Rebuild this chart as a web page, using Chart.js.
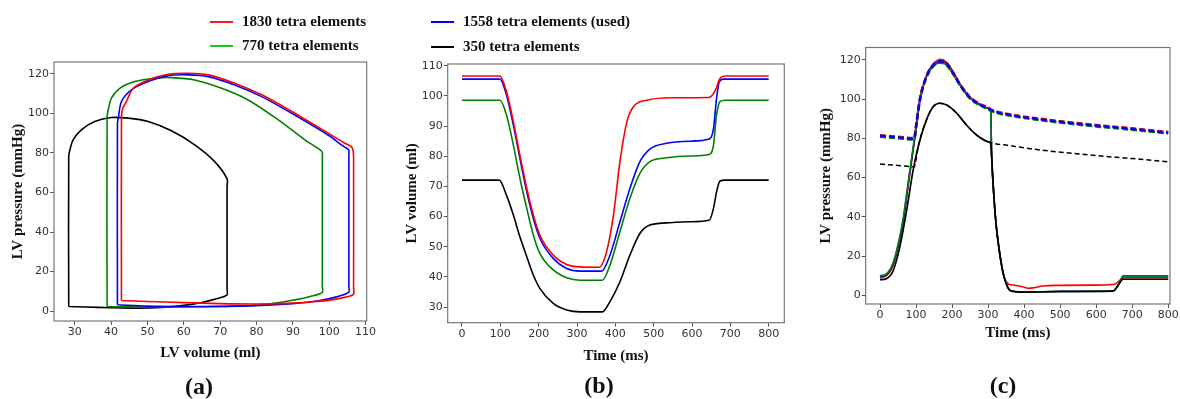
<!DOCTYPE html>
<html>
<head>
<meta charset="utf-8">
<script src="https://cdn.jsdelivr.net/npm/chart.js@4.4.1/dist/chart.umd.min.js"></script>
<style>
  html, body { margin: 0; padding: 0; background: #fff; }
  #wrap { position: relative; width: 1180px; height: 399px; overflow: hidden; }
  canvas { position: absolute; left: 0; top: 0; }
  .lg { position: absolute; font: bold 15px 'Liberation Serif', serif; color: #111; white-space: nowrap; line-height: 18px; }
  .lg i { display: inline-block; width: 23px; height: 2px; vertical-align: middle; margin-right: 9px; position: relative; top: -1px; }
  .tag { position: absolute; font: bold 24px 'Liberation Serif', serif; color: #111; transform: translate(-50%, -50%); white-space: nowrap; }
</style>
</head>
<body>
<div id="wrap">
  <canvas id="pv" width="1180" height="399"></canvas>
  <canvas id="vol" width="1180" height="399"></canvas>
  <canvas id="pres" width="1180" height="399"></canvas>

  <div class="lg" style="left:210px;top:12px"><i style="background:#ff1a1a"></i>1830 tetra elements</div>
  <div class="lg" style="left:210px;top:36px"><i style="background:#1ec81e"></i>770 tetra elements</div>
  <div class="lg" style="left:431px;top:12px"><i style="background:#0000ff"></i>1558 tetra elements (used)</div>
  <div class="lg" style="left:431px;top:37px"><i style="background:#000"></i>350 tetra elements</div>

  <div class="tag" style="left:199px;top:386px">(a)</div>
  <div class="tag" style="left:599px;top:385px">(b)</div>
  <div class="tag" style="left:1003px;top:385px">(c)</div>
</div>
<script>
// ---- (a) PV loops: volume (ml) / pressure (mmHg)
const pvRedV   = [42.85, 42.85, 43.2, 44.2, 46.1, 50.2, 55.7, 61.2, 66.7, 74, 81.4, 90.5, 99.7, 104.3, 106.1, 106.6, 106.7, 106.7, 106.7, 105.5, 101, 95, 88, 80, 70, 60, 50, 42.85];
const pvRedP   = [5.4, 98, 102.5, 106, 112.7, 116.9, 119.8, 120.3, 119.5, 115.3, 109.4, 100.1, 90, 84.9, 83.2, 80.7, 77, 12, 8.6, 7.5, 5.8, 4.6, 3.9, 3.6, 3.8, 4.3, 4.9, 5.4];
const pvBlueV  = [41.75, 41.75, 42.05, 42.85, 45.6, 50.2, 55.7, 61.2, 66.7, 74, 81.4, 90.5, 99.7, 103.4, 105.2, 105.4, 105.4, 105.4, 105.4, 102, 97, 90, 80, 70, 60, 50, 41.75];
const pvBlueP  = [3.2, 95, 98.4, 106, 111.9, 116.1, 119.1, 119.5, 118.6, 114.4, 108.5, 99.2, 89.1, 84, 81.8, 81.3, 78, 12.5, 9.6, 7.2, 5.2, 3.8, 2.8, 2.4, 2.3, 2.5, 3.2];
const pvGreenV = [38.9, 38.9, 39.3, 40.1, 42.4, 46.5, 52, 56.6, 63, 70.4, 77.7, 86, 93.3, 97.6, 98.1, 98.1, 98.1, 98.1, 95, 90.5, 81.4, 70, 60, 50, 38.9];
const pvGreenP = [2.3, 98, 102.5, 107.7, 112.7, 116.1, 117.8, 118.1, 116.9, 112.7, 106.8, 96.7, 86.6, 81.4, 80, 77, 12.5, 9.5, 7.5, 5.7, 3.2, 2.3, 2.1, 2.1, 2.3];
const pvBlackV = [28.35, 28.35, 28.8, 29.55, 31.8, 35.5, 40.1, 44.7, 50.2, 56.6, 63, 68.5, 71.9, 71.9, 71.9, 71.9, 69, 65, 60, 54, 47, 40, 33, 28.35];
const pvBlackP = [2.3, 78, 82.5, 86.6, 91.7, 95.9, 97.9, 97.6, 95.9, 91.2, 84.1, 75.6, 66.9, 63, 11, 8.2, 6.2, 4.4, 2.9, 1.9, 1.5, 1.7, 2.1, 2.3];
const pvXTicks = [30, 40, 50, 60, 70, 80, 90, 100, 110];
const pvYTicks = [0, 20, 40, 60, 80, 100, 120];

// ---- (b) LV volume (ml) over time (ms)
const volRedT   = [0, 99, 116, 134, 151, 169, 186, 203, 238, 273, 308, 358, 377, 395, 412, 430, 447, 482, 551, 645, 661, 673, 686, 800];
const volRedV   = [106.6, 106.6, 101.4, 91.4, 80.4, 69.3, 60.5, 53.9, 47.2, 44.1, 43.3, 43.2, 48.3, 60.5, 78.2, 91.4, 96.4, 98.6, 99.4, 99.5, 101.9, 105.8, 106.6, 106.6];
const volBlueT  = [0, 99, 116, 134, 151, 169, 186, 203, 238, 273, 308, 364, 386, 412, 438, 464, 490, 534, 595, 645, 656, 664, 671, 682, 800];
const volBlueV  = [105.6, 105.6, 100.3, 90.3, 79.3, 68.2, 59.4, 52.8, 46.1, 42.8, 41.9, 41.9, 47.2, 58.3, 69.3, 78.2, 82.4, 84.3, 85, 85.7, 89.2, 99.2, 104.7, 105.6, 105.6];
const volGreenT = [0, 99, 116, 134, 151, 169, 186, 203, 238, 273, 308, 366, 386, 412, 438, 464, 490, 534, 595, 645, 656, 664, 673, 686, 800];
const volGreenV = [98.6, 98.6, 93.7, 83.7, 72.7, 62.7, 53.9, 47.8, 42.3, 39.7, 38.9, 38.9, 43.9, 55, 66, 74.3, 78.2, 79.5, 80.1, 80.6, 83.7, 93.7, 98.1, 98.6, 98.6];
const volBlackT = [0, 97, 116, 134, 151, 169, 186, 203, 238, 273, 308, 366, 386, 412, 438, 464, 490, 534, 595, 645, 656, 664, 673, 686, 800];
const volBlackV = [72.1, 72.1, 67.1, 60.5, 53.3, 46.7, 40.6, 36.2, 31.2, 29, 28.4, 28.4, 31.8, 38.4, 47.2, 54.4, 57.2, 57.9, 58.3, 58.8, 62.7, 68.2, 71.8, 72.1, 72.1];
const volXTicks = [0, 100, 200, 300, 400, 500, 600, 700, 800];
const volYTicks = [30, 40, 50, 60, 70, 80, 90, 100, 110];

// ---- (c) LV pressure (solid) and aortic pressure (dashed), mmHg over time (ms)
const lvT       = [0, 18, 37, 55, 65, 80, 97, 111, 129, 148, 169, 185, 203, 222, 250, 277, 300, 307, 310, 315, 322, 331, 342, 356, 365, 407, 499, 647, 661, 675, 800];
const lvGreenP  = [10, 11, 17, 30, 40, 60, 82, 100, 111.5, 116.8, 118.6, 117.3, 112.8, 107, 100.5, 97, 95.3, 94.5, 70.7, 53.7, 36.7, 23.1, 11.2, 3.6, 2.2, 1.7, 2, 2.2, 5.1, 9.9, 9.9];
const lvBlueP   = [9.6, 10.6, 16.4, 29.2, 39, 59, 81, 99.5, 111.5, 117.3, 119.3, 118, 113.3, 107.3, 100.7, 97.2, 95.4, 94.5, 70.7, 53.7, 36.7, 23.1, 11.2, 3.6, 2.2, 1.7, 2, 2.2, 5.1, 9.9, 9.9];
const lvRedT    = [0, 18, 37, 55, 65, 80, 97, 111, 129, 148, 169, 185, 203, 222, 250, 277, 300, 307, 310, 315, 322, 331, 342, 356, 365, 398, 410, 425, 453, 499, 592, 647, 661, 675, 800];
const lvRedP    = [9, 10, 15.5, 28, 38, 58, 80.5, 99.5, 112, 118, 120.3, 118.7, 114, 107.8, 101, 97.4, 95.5, 94.5, 70.7, 53.7, 36.7, 23.1, 11.2, 5.8, 5.4, 4.3, 3.6, 3.8, 4.8, 5.1, 5.2, 5.5, 6.8, 9, 9];
const lvBlackT  = [0, 18, 37, 55, 74, 92, 106, 129, 148, 166, 185, 213, 240, 268, 300, 307, 310, 315, 322, 331, 342, 356, 365, 407, 499, 647, 661, 675, 800];
const lvBlackP  = [8, 8.5, 12.8, 24.7, 43.4, 63.8, 75.7, 89.4, 96.2, 97.9, 97, 92.8, 86.8, 81.7, 78.3, 77.5, 70.7, 53.7, 36.7, 23.1, 11.2, 3.6, 2.2, 1.7, 2, 2.2, 5.1, 8.2, 8.2];
const aoT       = [0, 50, 95, 100, 111, 129, 148, 169, 185, 203, 222, 250, 277, 300, 307, 360, 444, 583, 700, 800];
const aoBlueP   = [81.3, 80.5, 79.8, 86, 100, 111.5, 117.3, 119.3, 118, 113.3, 107.3, 100.7, 97.2, 95.4, 94.5, 92, 89.7, 86.8, 84.8, 82.9];
const aoRedP    = [81.6, 80.8, 80.1, 86.3, 100.3, 111.8, 117.6, 119.6, 118.3, 113.6, 107.6, 101, 97.5, 95.7, 94.8, 92.3, 90, 87.1, 85.1, 83.2];
const aoGreenP  = [80.9, 80.1, 79.4, 85.6, 99.6, 111.1, 116.8, 118.6, 117.3, 112.8, 107, 100.3, 96.8, 95, 94.1, 91.6, 89.3, 86.4, 84.4, 82.5];
const aoBlackT  = [0, 50, 95, 100, 106, 129, 148, 166, 185, 213, 240, 268, 300, 360, 444, 583, 700, 800];
const aoBlackP  = [66.9, 66.2, 65.5, 69, 75.7, 89.4, 96.2, 97.9, 97, 92.8, 86.8, 81.7, 78.3, 76.3, 74.1, 71.5, 69.7, 68.1];
const presXTicks = [0, 100, 200, 300, 400, 500, 600, 700, 800];
const presYTicks = [0, 20, 40, 60, 80, 100, 120];

const RED = '#ff0000', BLUE = '#0000ff', GREEN = '#008000', BLACK = '#000000';
const TICK_FONT = { family: "'DejaVu Sans', sans-serif", size: 11 };
const TITLE_FONT = { family: "'Liberation Serif', serif", size: 15, weight: 'bold', lineHeight: 1.2 };

const pts = (xs, ys) => xs.map((x, i) => ({ x, y: ys[i] }));

const framePlugin = {
  id: 'frame',
  afterDraw(chart) {
    const { ctx, chartArea: a } = chart;
    ctx.save();
    ctx.strokeStyle = '#777';
    ctx.lineWidth = 1.2;
    ctx.strokeRect(a.left, a.top, a.right - a.left, a.bottom - a.top);
    ctx.restore();
  },
};

function scale(min, max, ticks, title, size, horizontal, titlePad) {
  return {
    type: 'linear',
    min, max,
    afterBuildTicks: s => { s.ticks = ticks.map(v => ({ value: v })); },
    afterFit: s => { if (horizontal) s.height = size; else s.width = size; },
    grid: { drawOnChartArea: false, drawTicks: true, tickLength: 4, color: '#555' },
    border: { display: false },
    ticks: { font: TICK_FONT, color: '#333', padding: 1, autoSkip: false, maxRotation: 0 },
    title: { display: true, text: title, font: TITLE_FONT, color: '#111', padding: { top: titlePad, bottom: 0 } },
  };
}

// smooth: 'mono' for time series, a number for bezier tension on the loops
function line(data, color, width, dash, smooth) {
  return {
    data, borderColor: color, borderWidth: width, borderDash: dash || [],
    pointRadius: 0, fill: false, showLine: true,
    tension: typeof smooth === 'number' ? smooth : 0,
    cubicInterpolationMode: smooth === 'mono' ? 'monotone' : 'default',
  };
}

function makeChart(id, type, datasets, padding, x, y) {
  return new Chart(document.getElementById(id), {
    type,
    data: { datasets },
    options: {
      responsive: false,
      animation: false,
      layout: { padding },
      plugins: { legend: { display: false }, tooltip: { enabled: false } },
      scales: { x, y },
    },
    plugins: [framePlugin],
  });
}

// datasets listed top-most first (Chart.js paints index 0 last)

// (a)
makeChart('pv', 'scatter', [
  line(pts(pvRedV, pvRedP), RED, 1.6, null, 0.3),
  line(pts(pvBlueV, pvBlueP), BLUE, 1.6, null, 0.3),
  line(pts(pvGreenV, pvGreenP), GREEN, 1.6, null, 0.3),
  line(pts(pvBlackV, pvBlackP), BLACK, 1.6, null, 0.3),
], { left: 0, top: 62, right: 813.3, bottom: 37 },
  scale(24.3, 110.3, pvXTicks, 'LV volume (ml)', 41, true, 0),
  scale(-5, 126, pvYTicks, 'LV pressure (mmHg)', 54, false, 9));

// (b)
makeChart('vol', 'line', [
  line(pts(volRedT, volRedV), RED, 1.6, null, 'mono'),
  line(pts(volBlueT, volBlueV), BLUE, 1.6, null, 'mono'),
  line(pts(volGreenT, volGreenV), GREEN, 1.6, null, 'mono'),
  line(pts(volBlackT, volBlackV), BLACK, 1.6, null, 'mono'),
], { left: 400, top: 64, right: 395.7, bottom: 34.3 },
  scale(-37.3, 840.7, volXTicks, 'Time (ms)', 42, true, 0),
  scale(24.8, 110.6, volYTicks, 'LV volume (ml)', 47.7, false, 3));

// (c)
makeChart('pres', 'line', [
  line(pts(aoT, aoBlueP), BLUE, 2.4, [6, 3], 'mono'),
  line(pts(aoT, aoRedP), RED, 2.6, [6, 3], 'mono'),
  line(pts(aoT, aoGreenP), GREEN, 2.6, [6, 3], 'mono'),
  line(pts(aoBlackT, aoBlackP), BLACK, 1.5, [5, 3], 'mono'),
  line(pts(lvBlackT, lvBlackP), BLACK, 1.7, null, 'mono'),
  line(pts(lvT, lvGreenP), GREEN, 1.6, null, 'mono'),
  line(pts(lvT, lvBlueP), BLUE, 1.6, null, 'mono'),
  line(pts(lvRedT, lvRedP), RED, 1.6, null, 'mono'),
], { left: 817, top: 47.5, right: 10, bottom: 57.3 },
  scale(-39.7, 805, presXTicks, 'Time (ms)', 37.7, true, 0),
  scale(-4.4, 126.3, presYTicks, 'LV pressure (mmHg)', 48.7, false, 0));
</script>
</body>
</html>
